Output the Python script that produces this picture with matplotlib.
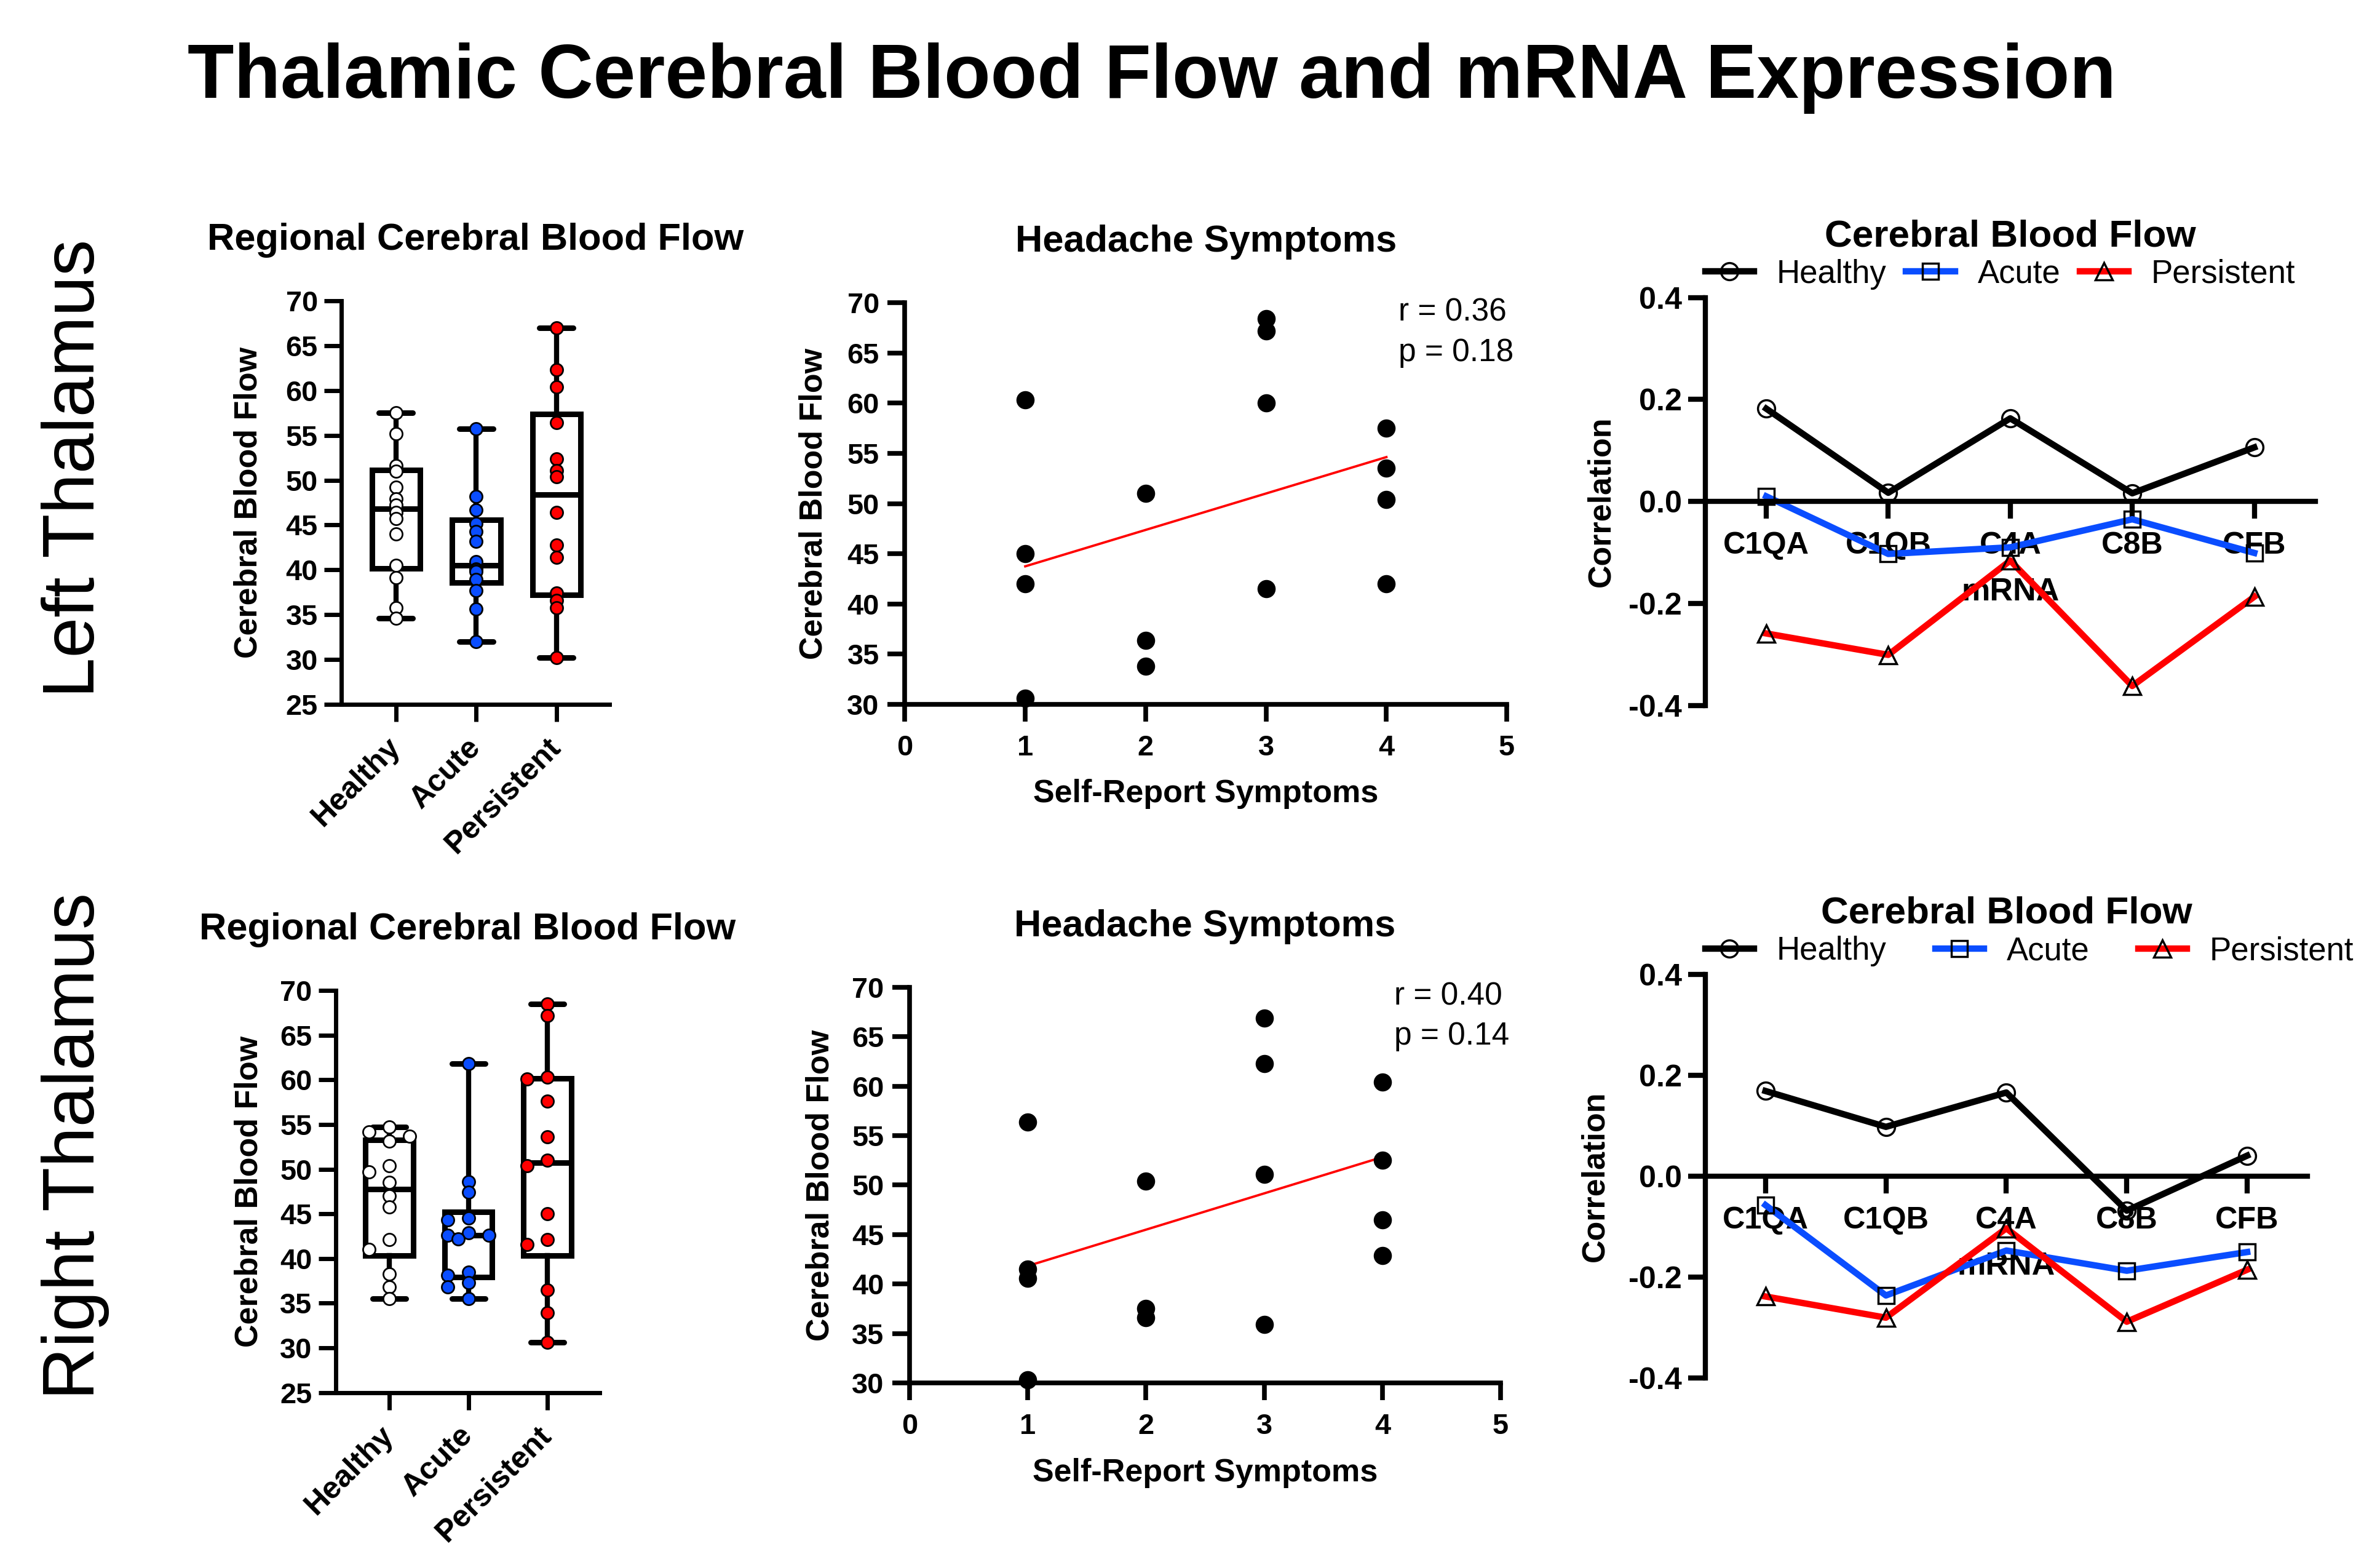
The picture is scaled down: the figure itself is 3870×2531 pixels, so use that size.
import numpy as np
import matplotlib as mpl
mpl.use('Agg')
import matplotlib.pyplot as plt
from matplotlib import cbook
from matplotlib.ticker import FormatStrFormatter

plt.rcParams['font.family'] = ['Liberation Sans', 'DejaVu Sans']
plt.rcParams['axes.unicode_minus'] = False

groups = ["Healthy", "Acute", "Persistent"]
group_faces = ["white", "#0A4DFF", "#FF0000"]

# regional CBF per group, left thalamus
left_healthy = [57.5, 55.2, 51.6, 51.0, 49.2, 47.9, 47.2, 46.4, 45.7, 44.0, 40.5, 39.1, 35.8, 34.6]
left_acute = [55.7, 48.2, 46.7, 45.2, 44.3, 43.2, 40.9, 40.1, 40.0, 39.8, 38.9, 37.7, 35.6, 32.0]
left_persistent = [67.0, 62.3, 60.4, 56.4, 52.4, 51.1, 50.4, 46.4, 42.8, 41.4, 37.4, 36.6, 35.8, 30.2]

# regional CBF per group, right thalamus
right_healthy = [54.7, 54.2, 53.7, 53.1, 50.4, 49.7, 48.5, 47.0, 45.8, 42.1, 41.0, 38.3, 36.8, 35.5]
right_acute = [61.8, 48.6, 47.4, 44.5, 44.3, 42.9, 42.6, 42.6, 42.2, 38.5, 38.1, 37.3, 36.8, 35.5]
right_persistent = [68.5, 67.2, 60.3, 60.1, 57.6, 53.6, 51.0, 50.4, 45.0, 42.1, 41.6, 36.5, 33.9, 30.6]

# headache symptom score vs CBF
left_sym = [1, 1, 1, 1, 2, 2, 2, 3, 3, 3, 3, 4, 4, 4, 4]
left_cbf = [60.3, 45.0, 42.0, 30.6, 51.0, 36.4, 33.8, 68.4, 67.2, 60.0, 41.5, 57.5, 53.5, 50.4, 42.0]
right_sym = [1, 1, 1, 1, 2, 2, 2, 3, 3, 3, 3, 4, 4, 4, 4]
right_cbf = [56.4, 41.5, 40.6, 30.3, 50.4, 37.5, 36.6, 66.9, 62.3, 51.1, 35.9, 60.4, 52.5, 46.5, 42.9]
left_stats = ["r = 0.36", "p = 0.18"]
right_stats = ["r = 0.40", "p = 0.14"]

# correlation of CBF with mRNA expression
genes = ["C1QA", "C1QB", "C4A", "C8B", "CFB"]
left_corr_healthy = [0.182, 0.017, 0.163, 0.016, 0.106]
left_corr_acute = [0.010, -0.103, -0.090, -0.035, -0.101]
left_corr_persistent = [-0.259, -0.301, -0.116, -0.362, -0.187]
right_corr_healthy = [0.169, 0.098, 0.166, -0.068, 0.041]
right_corr_acute = [-0.057, -0.236, -0.147, -0.187, -0.150]
right_corr_persistent = [-0.238, -0.280, -0.103, -0.288, -0.185]

BLUE = "#0A4DFF"
RED = "#FF0000"


def swarm(vals, ppx, ppy, step=33, dmin=17):
    # greedy beeswarm from the top value down, offsets returned in data units
    vals = np.asarray(vals, dtype=float)
    order = np.argsort(-vals)
    cands = [0.0, -step, step, -step / 2, step / 2, -1.5 * step, 1.5 * step,
             -2 * step, 2 * step]
    placed = []
    offs = np.zeros(len(vals))
    for i in order:
        y = vals[i] * ppy
        chosen = cands[-1]
        for c in cands:
            if all(np.hypot(c - px, y - py) >= dmin for px, py in placed):
                chosen = c
                break
        placed.append((chosen, y))
        offs[i] = chosen / ppx
    return offs


def box_panel(ax, data, spread=False):
    stats = []
    for vals in data:
        v = np.array(vals)
        st = cbook.boxplot_stats(v, whis=(0, 100))[0]
        st['q1'] = np.percentile(v, 25, method='weibull')
        st['med'] = np.percentile(v, 50, method='weibull')
        st['q3'] = np.percentile(v, 75, method='weibull')
        st['whislo'] = v.min()
        st['whishi'] = v.max()
        st['fliers'] = np.array([])
        stats.append(st)
    ax.bxp(stats, positions=range(3), widths=0.6, capwidths=0.42, showfliers=False,
           patch_artist=True,
           boxprops=dict(facecolor='white', edgecolor='black', linewidth=2.6),
           medianprops=dict(color='black', linewidth=2.6),
           whiskerprops=dict(color='black', linewidth=2.4),
           capprops=dict(color='black', linewidth=2.6, solid_capstyle='round'))
    for i, vals in enumerate(data):
        if spread:
            offs = swarm(vals, 128, 14.5)
        else:
            offs = np.zeros(len(vals))
        ax.plot(i + offs, vals, 'o', ms=5.8, mfc=group_faces[i], mec='black', mew=0.8,
                zorder=4, clip_on=False)
    ax.set_xlim(-0.68, 2.66)
    ax.set_ylim(25, 70)
    ax.set_yticks(range(25, 71, 5))
    ax.set_xticks(range(3))
    ax.set_xticklabels(groups, rotation=45, ha='right', va='center', rotation_mode='anchor',
                       fontsize=14.5, fontweight='bold')
    for s in ['top', 'right']:
        ax.spines[s].set_visible(False)
    for s in ['left', 'bottom']:
        ax.spines[s].set_linewidth(2.0)
    ax.tick_params(length=8, width=2.0, labelsize=13.5, pad=3)
    ax.tick_params(axis='x', pad=10, labelsize=14.5)
    for t in ax.get_yticklabels():
        t.set_fontweight('bold')
    ax.set_ylabel("Cerebral Blood Flow", fontsize=15, fontweight='bold')
    ax.set_title("Regional Cerebral Blood Flow", fontsize=17.7, fontweight='bold', pad=24)


def scatter_panel(ax, x, y, txt):
    x = np.array(x, dtype=float)
    y = np.array(y, dtype=float)
    ax.plot(x, y, 'o', color='black', ms=7.5, clip_on=False, zorder=3)
    slope, icpt = np.polyfit(x, y, 1)
    xs = np.array([x.min(), x.max()])
    ax.plot(xs, slope * xs + icpt, color=RED, lw=1.1, zorder=2)
    ax.set_xlim(0, 5)
    ax.set_ylim(30, 70)
    ax.set_xticks(range(6))
    ax.set_yticks(range(30, 71, 5))
    for s in ['top', 'right']:
        ax.spines[s].set_visible(False)
    for s in ['left', 'bottom']:
        ax.spines[s].set_linewidth(2.2)
    ax.tick_params(length=8, width=2.2, labelsize=13.5, pad=4)
    ax.tick_params(axis='x', pad=6)
    for t in ax.get_xticklabels() + ax.get_yticklabels():
        t.set_fontweight('bold')
    ax.set_xlabel("Self-Report Symptoms", fontsize=15, fontweight='bold')
    ax.set_ylabel("Cerebral Blood Flow", fontsize=15, fontweight='bold')
    ax.set_title("Headache Symptoms", fontsize=17.7, fontweight='bold', pad=24)
    ax.text(0.82, 0.955, txt[0], transform=ax.transAxes, fontsize=14.8, va='baseline')
    ax.text(0.82, 0.855, txt[1], transform=ax.transAxes, fontsize=14.8, va='baseline')


def corr_panel(ax, h, a, p, colspace):
    xs = np.arange(len(genes))
    ax.plot(xs, h, '-o', color='black', lw=3, ms=8, mfc='none', mec='black', mew=1,
            label='Healthy', clip_on=False)
    ax.plot(xs, a, '-s', color=BLUE, lw=3, ms=7.5, mfc='none', mec='black', mew=1,
            label='Acute', clip_on=False)
    ax.plot(xs, p, '-^', color=RED, lw=3, ms=8, mfc='none', mec='black', mew=1,
            label='Persistent', clip_on=False)
    ax.set_xlim(-0.5, 4.5)
    ax.set_ylim(-0.4, 0.4)
    ax.spines['bottom'].set_position(('data', 0))
    for s in ['top', 'right']:
        ax.spines[s].set_visible(False)
    for s in ['left', 'bottom']:
        ax.spines[s].set_linewidth(2.4)
    ax.set_xticks(xs)
    ax.set_xticklabels(genes)
    ax.set_yticks([-0.4, -0.2, 0.0, 0.2, 0.4])
    ax.yaxis.set_major_formatter(FormatStrFormatter('%.1f'))
    ax.tick_params(length=8, width=2.4, labelsize=14.5, pad=3)
    ax.tick_params(axis='x', pad=6)
    for t in ax.get_xticklabels() + ax.get_yticklabels():
        t.set_fontweight('bold')
    ax.set_xlabel("mRNA", fontsize=15, fontweight='bold')
    ax.xaxis.set_label_coords(0.5, 0.315)
    ax.set_ylabel("Correlation", fontsize=15, fontweight='bold')
    ax.set_title("Cerebral Blood Flow", fontsize=17.9, fontweight='bold', pad=24)
    ax.legend(loc='center left', bbox_to_anchor=(0.0, 1.057), ncol=3, frameon=False,
              fontsize=15.2, handlelength=1.5, handletextpad=0.7, columnspacing=colspace,
              borderpad=0, borderaxespad=0)


fig = plt.figure(figsize=(15.48, 10.124), dpi=250)

ax1 = fig.add_axes([0.1434, 0.5476, 0.1127, 0.2592])
ax2 = fig.add_axes([0.3802, 0.5476, 0.2529, 0.2580])
ax3 = fig.add_axes([0.7165, 0.5470, 0.2563, 0.2619])
ax4 = fig.add_axes([0.1410, 0.1056, 0.1109, 0.2583])
ax5 = fig.add_axes([0.3822, 0.1118, 0.2483, 0.2541])
ax6 = fig.add_axes([0.7165, 0.1148, 0.2530, 0.2594])

box_panel(ax1, [left_healthy, left_acute, left_persistent])
box_panel(ax4, [right_healthy, right_acute, right_persistent], spread=True)
scatter_panel(ax2, left_sym, left_cbf, left_stats)
scatter_panel(ax5, right_sym, right_cbf, right_stats)
corr_panel(ax3, left_corr_healthy, left_corr_acute, left_corr_persistent, 0.6)
corr_panel(ax6, right_corr_healthy, right_corr_acute, right_corr_persistent, 1.5)

ax1.yaxis.set_label_coords(-0.289, 0.5)
ax4.yaxis.set_label_coords(-0.27, 0.5)
ax2.yaxis.set_label_coords(-0.127, 0.5)
ax5.yaxis.set_label_coords(-0.125, 0.5)
ax2.xaxis.set_label_coords(0.5, -0.185)
ax5.xaxis.set_label_coords(0.5, -0.19)
ax3.yaxis.set_label_coords(-0.146, 0.5)
ax6.yaxis.set_label_coords(-0.158, 0.5)

fig.text(0.484, 0.9372, "Thalamic Cerebral Blood Flow and mRNA Expression",
         fontsize=35.6, fontweight='bold', ha='center', va='baseline')
fig.text(0.0317, 0.699, "Left Thalamus", fontsize=34, rotation=90, ha='center', va='center')
fig.text(0.0317, 0.264, "Right Thalamus", fontsize=34, rotation=90, ha='center', va='center')

fig.savefig("out.png", dpi=250)
